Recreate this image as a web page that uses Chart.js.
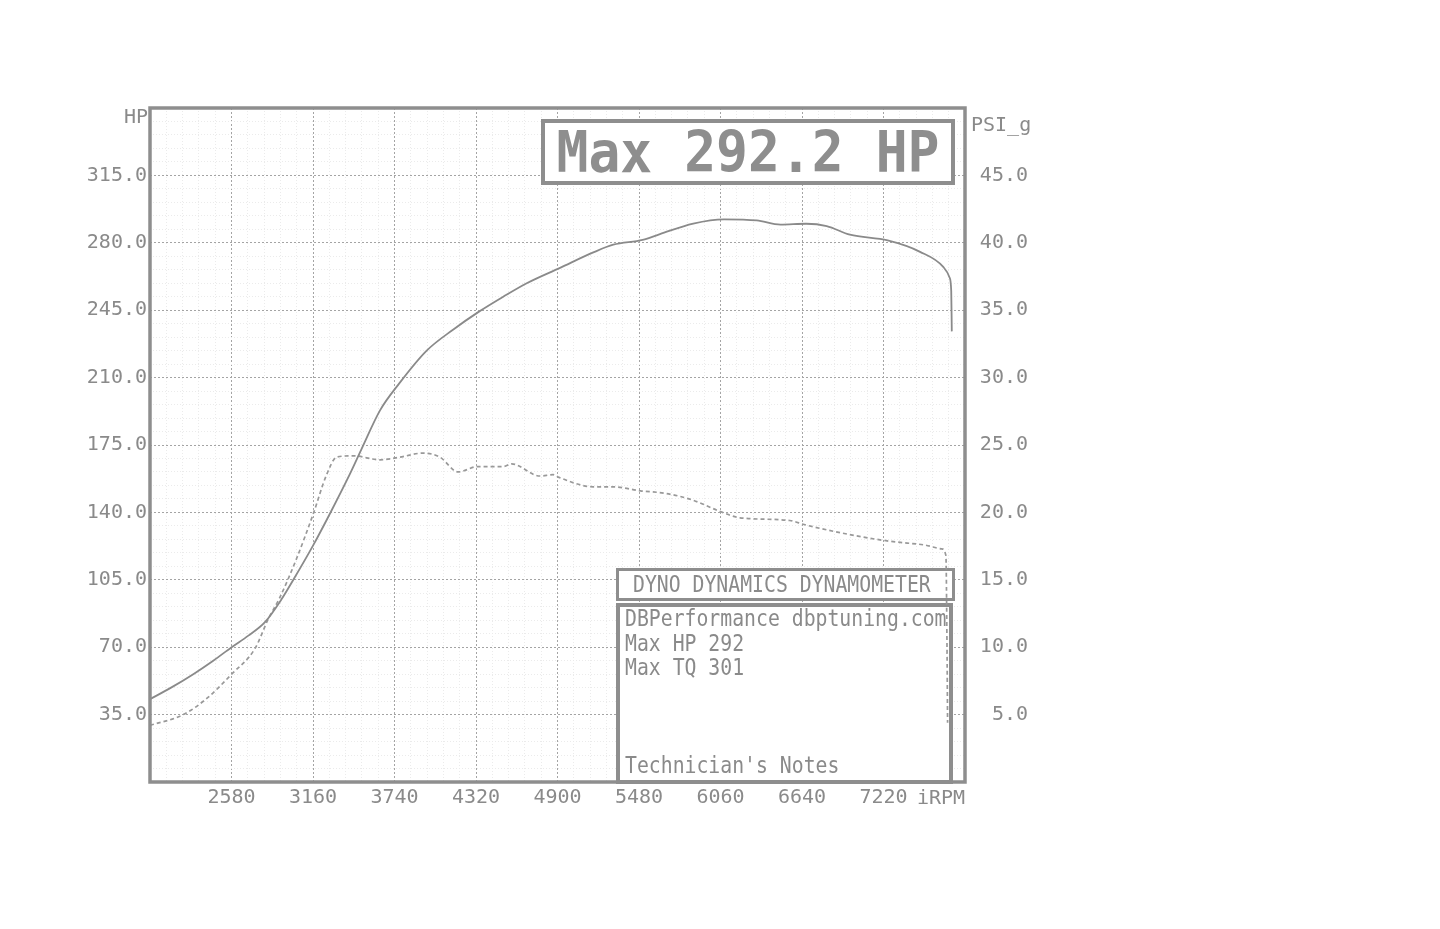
<!DOCTYPE html>
<html>
<head>
<meta charset="utf-8">
<script src="https://cdn.jsdelivr.net/npm/chart.js@4/dist/chart.umd.min.js"></script>
<style>
	html, body { margin: 0; padding: 0; background: #fff; }
	#wrap { position: relative; width: 1440px; height: 929px; font-family: "DejaVu Sans Mono", "Liberation Mono", monospace; color: #8a8a8a; }
	#dyno { position: absolute; left: 0; top: 0; }
	.lbl { position: absolute; font-size: 20px; line-height: 24px; white-space: nowrap; }
	.narrow { display: inline-block; transform-origin: left center; transform: scaleX(0.86); font-size: 23px; }
	#maxText { position: absolute; left: 748px; top: 152px; white-space: nowrap; font-size: 57px; font-weight: bold; line-height: 1;
		color: #8e8e8e; transform: translate(-50%, -50%) scaleX(0.93); }
</style>
</head>
<body>
<div id="wrap">
	<canvas id="dyno" width="1440" height="929"></canvas>

	<div class="lbl" style="left:124px; top:104px;">HP</div>
	<div class="lbl" style="left:971px; top:112px;">PSI_g</div>
	<div class="lbl" style="left:917px; top:785px;">iRPM</div>

	<span id="maxText">Max 292.2 HP</span>

	<div class="lbl" style="left:633px; top:572px;"><span class="narrow">DYNO DYNAMICS DYNAMOMETER</span></div>
	<div class="lbl" style="left:625px; top:606px;"><span class="narrow">DBPerformance dbptuning.com</span></div>
	<div class="lbl" style="left:625px; top:631px;"><span class="narrow">Max HP 292</span></div>
	<div class="lbl" style="left:625px; top:655px;"><span class="narrow">Max TQ 301</span></div>
	<div class="lbl" style="left:625px; top:753px;"><span class="narrow">Technician's Notes</span></div>
</div>

<script>
//#region data
// power curve (HP, left axis)
const hpRpm = [2000, 2150, 2308, 2450, 2581, 2700, 2818, 2937, 3020, 3162, 3292, 3423, 3506, 3637, 3774,
	3969, 4159, 4336, 4514, 4681, 4918, 5155, 5297, 5506, 5629, 5866, 6085, 6318, 6487, 6669,
	6816, 6981, 7250, 7480, 7645, 7690, 7702, 7706];
const hpValues = [43, 49, 56, 63, 70, 76, 83, 95, 105, 123, 141, 160, 173, 193, 207,
	224, 235, 244, 252, 259, 267, 275, 279, 281.5, 284.5, 290, 292.2, 291.6, 289.4, 289.9,
	288.7, 284.2, 281.2, 275.3, 267.5, 262, 255, 234];

// boost curve (PSI_g, right axis)
const boostRpm = [2000, 2237, 2404, 2581, 2747, 2842, 2920, 3044, 3162, 3257, 3328, 3447, 3637, 3779,
	3944, 4063, 4193, 4331, 4513, 4573, 4775, 4869, 4910, 5154, 5296, 5491, 5676, 5865, 6074,
	6198, 6553, 6655, 6910, 7237, 7503, 7633, 7664, 7672, 7676];
const boostValues = [4.2, 5.0, 6.2, 8.0, 9.9, 12.1, 13.6, 16.6, 19.9, 22.8, 24.1, 24.2, 23.9, 24.1,
	24.4, 24.1, 23.0, 23.4, 23.4, 23.6, 22.7, 22.8, 22.6, 21.9, 21.9, 21.6, 21.4, 20.9, 20.0,
	19.6, 19.4, 19.1, 18.5, 17.9, 17.6, 17.3, 16.8, 10.0, 4.4];

// tick labels
const rpmTickLabels = [2580, 3160, 3740, 4320, 4900, 5480, 6060, 6640, 7220];
const hpTickLabels = [35, 70, 105, 140, 175, 210, 245, 280, 315];
const psiTickLabels = [5, 10, 15, 20, 25, 30, 35, 40, 45];
//#endregion

const grey = '#8a8a8a';
const majorGrid = '#a4a4a4';
const minorGrid = '#ebebeb';
const tickFont = { family: '"DejaVu Sans Mono", "Liberation Mono", monospace', size: 20 };

//major grid every 580 rpm / 35 hp, minor every fifth of that
const rpmMin = 2000, rpmMax = 7800, rpmMinor = 116;
const hpMin = 0, hpMax = 350, hpMinor = 7;

function isMajor(v, start, step) {
	return Math.abs(((v - start) % step)) < 1e-6;
}

//white boxes behind the curves (the boost drop-off line runs over them)
//[x, y, w, h, border width] in page pixels, outer edges
const boxes = [
	[541, 119, 414, 66, 4],
	[616, 568, 339, 33, 3],
	[616, 603, 337, 181, 4]
];
const boxPlugin = {
	id: 'boxes',
	beforeDatasetsDraw(chart) {
		const ctx = chart.ctx;
		ctx.save();
		boxes.forEach(([x, y, w, h, lw]) => {
			ctx.fillStyle = '#fff';
			ctx.fillRect(x, y, w, h);
			ctx.strokeStyle = '#8e8e8e';
			ctx.lineWidth = lw;
			ctx.strokeRect(x + lw / 2, y + lw / 2, w - lw, h - lw);
		});
		ctx.restore();
	}
};

//thick frame around the plot
const framePlugin = {
	id: 'frame',
	afterDraw(chart) {
		const { ctx, chartArea: a } = chart;
		ctx.save();
		ctx.strokeStyle = '#8e8e8e';
		ctx.lineWidth = 3.5;
		ctx.strokeRect(a.left, a.top, a.right - a.left, a.bottom - a.top);
		ctx.restore();
	}
};

const chart = new Chart(document.getElementById('dyno'), {
	type: 'line',
	data: {
		datasets: [{
			label: 'HP',
			data: hpRpm.map((r, i) => ({ x: r, y: hpValues[i] })),
			yAxisID: 'y',
			borderColor: '#8a8a8a',
			borderWidth: 1.8,
			pointRadius: 0,
			cubicInterpolationMode: 'monotone',
			fill: false
		}, {
			label: 'PSI_g',
			data: boostRpm.map((r, i) => ({ x: r, y: boostValues[i] })),
			yAxisID: 'y1',
			borderColor: '#999999',
			borderWidth: 1.7,
			borderDash: [4, 3],
			pointRadius: 0,
			cubicInterpolationMode: 'monotone',
			fill: false
		}]
	},
	options: {
		responsive: false,
		animation: false,
		layout: { padding: { left: 88, right: 412, top: 108, bottom: 117 } },
		plugins: {
			legend: { display: false },
			tooltip: { enabled: false }
		},
		scales: {
			x: {
				type: 'linear',
				min: rpmMin,
				max: rpmMax,
				afterBuildTicks: (scale) => {
					const t = [];
					for (let v = rpmMin; v <= rpmMax; v += rpmMinor) t.push({ value: v });
					scale.ticks = t;
				},
				afterFit: (scale) => { scale.height = 30; },
				ticks: {
					autoSkip: false,
					maxRotation: 0,
					padding: 4,
					color: grey,
					font: tickFont,
					callback: (v) => rpmTickLabels.includes(v) ? String(v) : ''
				},
				grid: {
					drawTicks: false,
					lineWidth: 1,
					color: (c) => isMajor(c.tick.value, rpmMin, 580) ? majorGrid : minorGrid
				},
				border: { display: false, dash: (c) => isMajor(c.tick.value, rpmMin, 580) ? [2, 2] : [1, 2] }
			},
			y: {
				position: 'left',
				min: hpMin,
				max: hpMax,
				afterBuildTicks: (scale) => {
					const t = [];
					for (let v = hpMin; v <= hpMax; v += hpMinor) t.push({ value: v });
					scale.ticks = t;
				},
				afterFit: (scale) => { scale.width = 62; },
				ticks: {
					autoSkip: false,
					padding: 3,
					color: grey,
					font: tickFont,
					callback: (v) => hpTickLabels.includes(v) ? v.toFixed(1) : ''
				},
				grid: {
					drawTicks: false,
					lineWidth: 1,
					color: (c) => isMajor(c.tick.value, hpMin, 35) ? majorGrid : minorGrid
				},
				border: { display: false, dash: (c) => isMajor(c.tick.value, hpMin, 35) ? [2, 2] : [1, 2] }
			},
			y1: {
				position: 'right',
				min: 0,
				max: 50,
				afterBuildTicks: (scale) => {
					scale.ticks = [0].concat(psiTickLabels, [50]).map((v) => ({ value: v }));
				},
				afterFit: (scale) => { scale.width = 63; },
				ticks: {
					autoSkip: false,
					crossAlign: 'far',
					padding: 0,
					color: grey,
					font: tickFont,
					callback: (v) => psiTickLabels.includes(v) ? v.toFixed(1) : ''
				},
				grid: { display: false, drawTicks: false },
				border: { display: false }
			}
		}
	},
	plugins: [boxPlugin, framePlugin]
});
</script>
</body>
</html>
